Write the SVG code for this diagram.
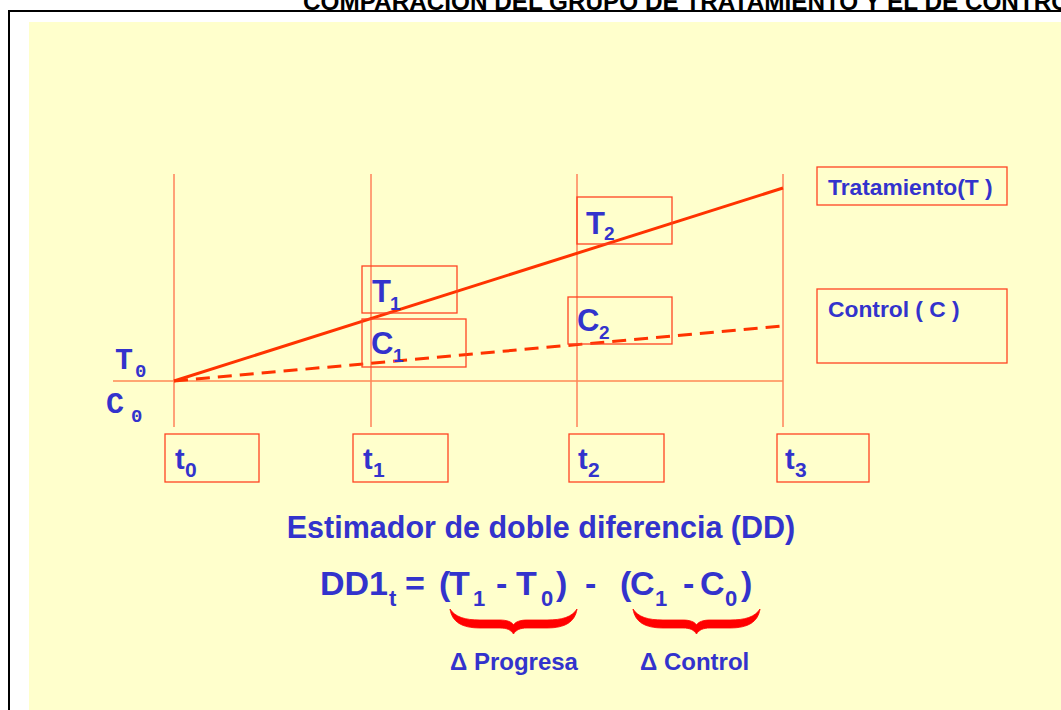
<svg xmlns="http://www.w3.org/2000/svg" width="1061" height="710" viewBox="0 0 1061 710">
<style>
.box{fill:none;stroke:#FF4422;stroke-width:1.3}
.lbl{font-family:"Liberation Sans",Arial,sans-serif;font-weight:bold;fill:#3333CC}
.mono{font-family:"Liberation Mono","Courier New",monospace;font-weight:bold;fill:#3333CC}
.grid{stroke:#FF4422;stroke-width:1}
.brace{fill:#FF0000;stroke:#FF0000;stroke-width:0.8;stroke-linejoin:round}
</style>
<rect x="0" y="0" width="1061" height="710" fill="#FFFFFF"/>
<rect x="29" y="22" width="1032" height="688" fill="#FFFFCC"/>
<g id="frame">
<line x1="9" y1="11" x2="1061" y2="11" stroke="#000" stroke-width="2"/>
<line x1="9" y1="10" x2="9" y2="710" stroke="#000" stroke-width="2"/>
</g>
<text id="title" x="303" y="10" font-family="'Liberation Sans',Arial,sans-serif" font-weight="bold" font-size="24.3" fill="#000">COMPARACION DEL GRUPO DE TRATAMIENTO Y EL DE CONTROL</text>

<g id="connectors">
<line class="grid" x1="174" y1="174" x2="174" y2="427"/>
<line class="grid" x1="371" y1="174" x2="371" y2="427"/>
<line class="grid" x1="577" y1="174" x2="577" y2="427"/>
<line class="grid" x1="783" y1="174" x2="783" y2="427"/>
<line x1="113" y1="381" x2="783" y2="381" stroke="#FF8855" stroke-width="1.3"/>
<line id="treat-line" x1="174" y1="381" x2="783" y2="188" stroke="#FF3300" stroke-width="3"/>
<line id="control-line" x1="174" y1="381" x2="783" y2="326" stroke="#FF3300" stroke-width="3" stroke-dasharray="14,8"/>
</g>

<g id="T0"><text class="mono" x="115" y="369" font-size="30">T</text><text class="mono" x="135" y="377" font-size="19">0</text></g>
<g id="C0"><text class="mono" x="106" y="413" font-size="30">C</text><text class="mono" x="131" y="422" font-size="19">0</text></g>

<g id="T1"><rect class="box" x="362" y="266" width="95" height="47"/><text class="lbl" x="372" y="302" font-size="31">T</text><text class="lbl" x="390" y="310" font-size="19">1</text></g>
<g id="C1"><rect class="box" x="362" y="319" width="104" height="48"/><text class="lbl" x="371" y="354" font-size="31">C</text><text class="lbl" x="393" y="362" font-size="19">1</text></g>
<g id="T2"><rect class="box" x="577" y="197" width="95" height="47"/><text class="lbl" x="586" y="234" font-size="31">T</text><text class="lbl" x="604" y="240" font-size="19">2</text></g>
<g id="C2"><rect class="box" x="568" y="297" width="104" height="47"/><text class="lbl" x="577" y="331" font-size="31">C</text><text class="lbl" x="599" y="339" font-size="19">2</text></g>

<g id="treat-legend"><rect class="box" x="817" y="167" width="190" height="38"/><text class="lbl" x="828" y="195" font-size="22.8">Tratamiento(T )</text></g>
<g id="control-legend"><rect class="box" x="817" y="289" width="190" height="74"/><text class="lbl" x="828" y="317" font-size="22.8">Control ( C )</text></g>

<g id="t0"><rect class="box" x="165" y="434" width="94" height="48"/><text class="lbl" x="175" y="469" font-size="29">t</text><text class="lbl" x="185" y="477" font-size="21">0</text></g>
<g id="t1"><rect class="box" x="353" y="434" width="95" height="48"/><text class="lbl" x="363" y="469" font-size="29">t</text><text class="lbl" x="373" y="477" font-size="21">1</text></g>
<g id="t2"><rect class="box" x="569" y="434" width="95" height="48"/><text class="lbl" x="578" y="469" font-size="29">t</text><text class="lbl" x="588" y="477" font-size="21">2</text></g>
<g id="t3"><rect class="box" x="777" y="434" width="92" height="48"/><text class="lbl" x="785" y="469" font-size="29">t</text><text class="lbl" x="795" y="477" font-size="21">3</text></g>

<g id="heading"><text class="lbl" x="541" y="538" font-size="30.5" text-anchor="middle">Estimador de doble diferencia (DD)</text></g>

<g id="formula">
<text class="lbl" x="320" y="595" font-size="34">DD1</text>
<text class="lbl" x="389" y="606" font-size="22">t</text>
<text class="lbl" x="405" y="595" font-size="34">=</text>
<text class="lbl" x="439" y="595" font-size="34">(</text>
<text class="lbl" x="449" y="595" font-size="34">T</text>
<text class="lbl" x="473" y="606" font-size="22">1</text>
<text class="lbl" x="496" y="595" font-size="34">-</text>
<text class="lbl" x="516" y="595" font-size="34">T</text>
<text class="lbl" x="541" y="606" font-size="22">0</text>
<text class="lbl" x="556" y="595" font-size="34">)</text>
<text class="lbl" x="585" y="595" font-size="34">-</text>
<text class="lbl" x="620" y="595" font-size="34">(</text>
<text class="lbl" x="630" y="595" font-size="34">C</text>
<text class="lbl" x="655" y="606" font-size="22">1</text>
<text class="lbl" x="683" y="595" font-size="34">-</text>
<text class="lbl" x="700" y="595" font-size="34">C</text>
<text class="lbl" x="725" y="606" font-size="22">0</text>
<text class="lbl" x="741" y="595" font-size="34">)</text>
</g>

<g id="braces">
<path class="brace" d="M450,609 C452,622 462,628 480,628 L500,628 C507,628 511,630 513.5,634 C516,630 520,628 527,628 L547,628 C565,628 575,622 577,609 C572,617 562,620 547,620 L527,620 C520,620 515,622 513.5,625 C512,622 507,620 500,620 L480,620 C465,620 455,617 450,609 Z"/>
<path class="brace" d="M633,609 C635,622 645,628 663,628 L683,628 C690,628 694,630 696.5,634 C699,630 703,628 710,628 L730,628 C748,628 758,622 760,609 C755,617 745,620 730,620 L710,620 C703,620 698,622 696.5,625 C695,622 690,620 683,620 L663,620 C648,620 638,617 633,609 Z"/>
</g>

<g id="delta-progresa"><text class="lbl" x="450" y="670" font-size="24">Δ Progresa</text></g>
<g id="delta-control"><text class="lbl" x="640" y="670" font-size="24">Δ Control</text></g>
</svg>
